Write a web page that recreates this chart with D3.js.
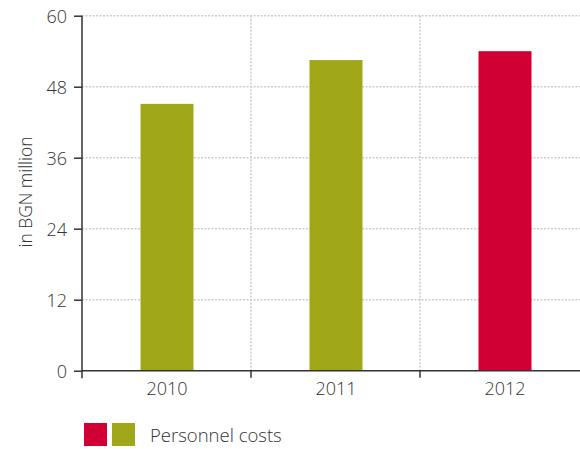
<!DOCTYPE html>
<html><head><meta charset="utf-8">
<script src="https://cdn.jsdelivr.net/npm/d3@7"></script>
<style>
html,body{margin:0;padding:0;background:#fff;}
svg{display:block;font-family:"Open Sans", Roboto, sans-serif;}
</style></head>
<body>
<svg id="chart" width="580" height="449"></svg>
<script>
const categories = ["2010", "2011", "2012"];
const values = [45.1, 52.5, 54.0];
const barColors = ["#a0a719", "#a0a719", "#d10034"];
const yTicks = [0, 12, 24, 36, 48, 60];
const legendLabel = "Personnel costs";
const yTitle = "in BGN million";

const svg = d3.select("#chart");
const m = {left: 82, top: 15.7, bottom: 370.7};
const bandW = 169;
const x = d3.scaleBand().domain(categories).range([m.left, m.left + bandW * categories.length]).paddingInner(0).paddingOuter(0);
const y = d3.scaleLinear().domain([0, 60]).range([m.bottom, m.top]);
const txt = "#333";

// horizontal gridlines
svg.append("g").selectAll("line").data(yTicks.filter(d => d > 0)).join("line")
  .attr("x1", m.left).attr("x2", 580)
  .attr("y1", d => y(d)).attr("y2", d => y(d))
  .attr("stroke", "#cccccc").attr("stroke-width", 1.5).attr("stroke-dasharray", "2,1.5");

// vertical gridlines at band boundaries
const bounds = categories.slice(1).map(c => x(c));
svg.append("g").selectAll("line").data(bounds).join("line")
  .attr("x1", d => d).attr("x2", d => d)
  .attr("y1", m.top).attr("y2", m.bottom)
  .attr("stroke", "#cccccc").attr("stroke-width", 1.5).attr("stroke-dasharray", "2,1.5");

// bars
const barW = 53;
svg.append("g").selectAll("rect").data(values).join("rect")
  .attr("x", (d, i) => x(categories[i]) + x.bandwidth() / 2 - barW / 2 + 0.5)
  .attr("width", barW)
  .attr("y", d => y(d))
  .attr("height", d => y(0) - y(d))
  .attr("fill", (d, i) => barColors[i]);

// y axis
const yAxis = d3.axisLeft(y).tickValues(yTicks).tickSize(8).tickPadding(7);
const gy = svg.append("g").attr("transform", `translate(${m.left},0)`).call(yAxis);
gy.select(".domain").remove();
gy.append("line").attr("x1", 0).attr("x2", 0).attr("y1", m.top).attr("y2", m.bottom + 7.5)
  .attr("stroke", "#333").attr("stroke-width", 1.5);
gy.selectAll(".tick line").attr("stroke", "#333").attr("stroke-width", 1.5);
gy.selectAll(".tick text").attr("fill", txt).attr("font-size", 18).attr("font-weight", 300)
  .attr("font-family", "'Open Sans', sans-serif").attr("dy", "0.36em");

// x axis
const gx = svg.append("g").attr("transform", `translate(0,${m.bottom})`);
gx.append("line").attr("x1", m.left).attr("x2", 580).attr("y1", 0).attr("y2", 0)
  .attr("stroke", "#333").attr("stroke-width", 1.5);
gx.selectAll("line.tk").data(bounds).join("line").attr("class", "tk")
  .attr("x1", d => d).attr("x2", d => d).attr("y1", 0).attr("y2", 7)
  .attr("stroke", "#333").attr("stroke-width", 1.5);
gx.selectAll("text").data(categories).join("text")
  .attr("x", d => x(d) + x.bandwidth() / 2 + 0.5)
  .attr("y", 24)
  .attr("text-anchor", "middle")
  .attr("fill", txt).attr("font-size", 18).attr("font-weight", 300)
  .text(d => d);

// y title
svg.append("text")
  .attr("transform", `translate(32,192) rotate(-90)`)
  .attr("text-anchor", "middle")
  .attr("fill", txt).attr("font-size", 17.4).attr("font-weight", 300)
  .text(yTitle);

// legend
const lg = svg.append("g");
lg.append("rect").attr("x", 84).attr("y", 423).attr("width", 23).attr("height", 23).attr("fill", barColors[2]);
lg.append("rect").attr("x", 112).attr("y", 423).attr("width", 23).attr("height", 23).attr("fill", barColors[0]);
lg.append("text").attr("x", 150).attr("y", 442).attr("fill", txt)
  .attr("font-size", 18.5).attr("font-weight", 300).text(legendLabel);
</script>
</body></html>
